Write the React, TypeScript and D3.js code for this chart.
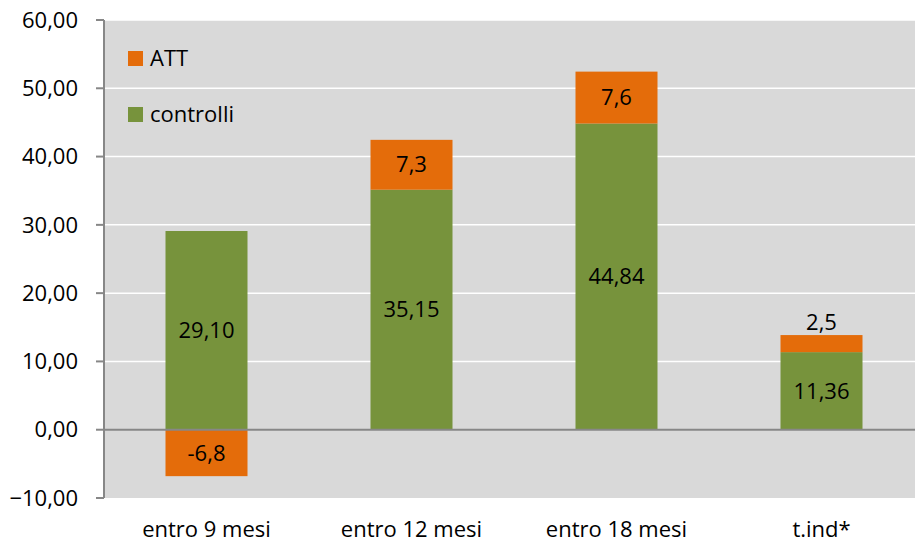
import React from "react";
import * as d3 from "d3";

const categories = ["entro 9 mesi", "entro 12 mesi", "entro 18 mesi", "t.ind*"];
const controlli = [29.1, 35.15, 44.84, 11.36];
const att = [-6.8, 7.3, 7.6, 2.5];
const controlliLabels = ["29,10", "35,15", "44,84", "11,36"];
const attLabels = ["-6,8", "7,3", "7,6", "2,5"];
const yTicks = [-10, 0, 10, 20, 30, 40, 50, 60];
const seriesNames = ["ATT", "controlli"];

const W = 915;
const H = 543;
const FONT = "'Open Sans', Lato, sans-serif";
const FS = 22;
const ORANGE = "#E46C0A";
const GREEN = "#77933C";

export default function App() {
  const left = 104;
  const right = 924;
  const top = 20;
  const bottom = 498;
  const x = d3.scaleBand<string>().domain(categories).range([left, right]).paddingInner(0.6).paddingOuter(0.3);
  const y = d3.scaleLinear().domain([-10, 60]).range([bottom, top]);
  const fmt = (v: number) => d3.format(".2f")(v).replace(".", ",");
  const bw = x.bandwidth();

  return (
    <svg width={W} height={H} style={{ position: "absolute", left: 0, top: 0 }} fontFamily={FONT}>
      <rect x={left} y={top} width={right - left} height={bottom - top} fill="#D9D9D9" />
      {yTicks.filter((t) => t !== 0 && t !== -10).map((t) => (
        <line key={t} x1={left} x2={right} y1={y(t)} y2={y(t)} stroke="#FFFFFF" strokeWidth={1.5} />
      ))}
      {categories.map((c, i) => {
        const g = controlli[i];
        const a = att[i];
        const x0 = x(c)!;
        const cx = x0 + bw / 2;
        const aTop = a >= 0 ? y(g + a) : y(0);
        const aBot = a >= 0 ? y(g) : y(a);
        const aMid = (aTop + aBot) / 2;
        const small = Math.abs(y(0) - y(Math.abs(a))) < 28;
        return (
          <g key={c}>
            <rect x={x0} y={y(g)} width={bw} height={y(0) - y(g)} fill={GREEN} />
            <rect x={x0} y={aTop} width={bw} height={aBot - aTop} fill={ORANGE} />
            <text x={cx} y={(y(g) + y(0)) / 2} dy="0.35em" textAnchor="middle" fontSize={FS} fill="#000">
              {controlliLabels[i]}
            </text>
            <text
              x={cx}
              y={small ? aTop - 13 : aMid}
              dy="0.35em"
              textAnchor="middle"
              fontSize={FS}
              fill="#000"
            >
              {attLabels[i]}
            </text>
          </g>
        );
      })}
      <line x1={left} x2={right} y1={y(0)} y2={y(0)} stroke="#878787" strokeWidth={2} />
      <line x1={left} x2={left} y1={top} y2={bottom} stroke="#878787" strokeWidth={2} />
      {yTicks.map((t) => (
        <g key={t}>
          <line x1={96} x2={left} y1={y(t)} y2={y(t)} stroke="#878787" strokeWidth={2} />
          <text x={78} y={y(t)} dy="0.35em" textAnchor="end" fontSize={FS} fill="#000">
            {fmt(t)}
          </text>
        </g>
      ))}
      {categories.map((c) => (
        <text key={c} x={x(c)! + bw / 2} y={537} textAnchor="middle" fontSize={FS} fill="#000">
          {c}
        </text>
      ))}
      {seriesNames.map((s, i) => (
        <g key={s}>
          <rect x={128} y={51 + i * 56} width={15} height={15} fill={i === 0 ? ORANGE : GREEN} />
          <text x={150} y={66 + i * 56} fontSize={FS} fill="#000">
            {s}
          </text>
        </g>
      ))}
    </svg>
  );
}
